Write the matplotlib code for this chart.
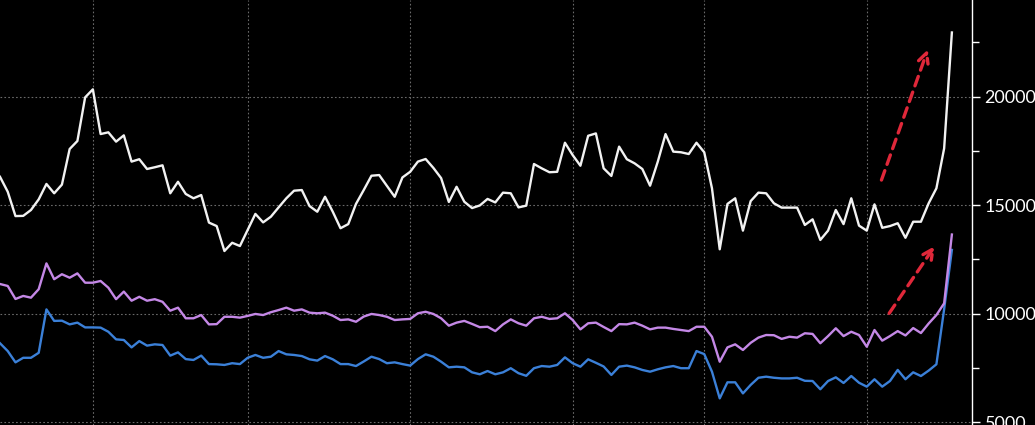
import numpy as np
import matplotlib
matplotlib.use("Agg")
import matplotlib.pyplot as plt
from matplotlib.ticker import MultipleLocator

# Series values, one point per period
white_vals = [16300, 15610, 14490, 14500, 14770, 15260, 15970, 15540, 15940, 17580,
              17950, 19960, 20330, 18270, 18350, 17920, 18210, 17000, 17110, 16660,
              16740, 16830, 15540, 16070, 15510, 15310, 15460, 14190, 14030, 12880,
              13260, 13110, 13850, 14590, 14200, 14460, 14890, 15310, 15660, 15690,
              14950, 14690, 15380, 14690, 13930, 14120, 15050, 15690, 16350, 16380,
              15880, 15380, 16270, 16530, 17000, 17120, 16710, 16240, 15140, 15840,
              15150, 14860, 14980, 15280, 15120, 15570, 15540, 14890, 14970, 16890,
              16690, 16510, 16530, 17870, 17300, 16810, 18190, 18300, 16690, 16340,
              17690, 17110, 16920, 16660, 15890, 17000, 18270, 17460, 17430, 17350,
              17870, 17430, 15770, 12960, 15050, 15310, 13820, 15180, 15570, 15540,
              15080, 14880, 14880, 14880, 14080, 14340, 13390, 13820, 14770, 14120,
              15310, 14050, 13820, 15030, 13950, 14030, 14160, 13490, 14230, 14230,
              15080, 15770, 17610, 22950]

purple_vals = [11360, 11270, 10670, 10810, 10730, 11120, 12310, 11580, 11810, 11650,
               11850, 11420, 11420, 11500, 11190, 10660, 11010, 10590, 10770, 10590,
               10660, 10540, 10130, 10270, 9780, 9780, 9930, 9500, 9510, 9850,
               9850, 9810, 9890, 9980, 9930, 10060, 10160, 10270, 10130, 10190,
               10040, 10010, 10040, 9900, 9700, 9730, 9620, 9860, 9980, 9930,
               9850, 9700, 9730, 9750, 10010, 10080, 9980, 9780, 9440, 9580,
               9660, 9520, 9370, 9390, 9190, 9500, 9730, 9550, 9440, 9780,
               9850, 9750, 9780, 10010, 9700, 9270, 9550, 9580, 9380, 9190,
               9510, 9500, 9580, 9440, 9270, 9350, 9350, 9290, 9240, 9190,
               9390, 9390, 8930, 7780, 8440, 8580, 8320, 8650, 8890, 9010,
               9000, 8830, 8930, 8890, 9090, 9060, 8630, 8960, 9320, 8960,
               9160, 9010, 8470, 9240, 8750, 8960, 9190, 8990, 9330, 9100,
               9540, 9930, 10470, 13640]

blue_vals = [8630, 8270, 7750, 7960, 7960, 8190, 10190, 9660, 9670, 9500,
             9580, 9360, 9360, 9350, 9160, 8810, 8780, 8440, 8730, 8520,
             8580, 8550, 8060, 8210, 7900, 7860, 8060, 7670, 7660, 7630,
             7710, 7670, 7960, 8090, 7960, 8010, 8270, 8120, 8090, 8040,
             7890, 7830, 8040, 7890, 7670, 7670, 7580, 7790, 8010, 7900,
             7710, 7750, 7670, 7600, 7900, 8120, 8010, 7780, 7520, 7550,
             7520, 7290, 7200, 7350, 7200, 7290, 7480, 7250, 7130, 7480,
             7580, 7550, 7630, 7980, 7710, 7550, 7890, 7730, 7560, 7170,
             7550, 7600, 7520, 7400, 7320, 7430, 7520, 7580, 7480, 7480,
             8270, 8130, 7320, 6090, 6830, 6830, 6320, 6710, 7040, 7090,
             7040, 7010, 7010, 7040, 6900, 6890, 6510, 6890, 7060, 6800,
             7120, 6810, 6630, 6970, 6630, 6890, 7400, 6970, 7290, 7120,
             7370, 7660, 10200, 12930]

# period index of the vertical grid lines
vgrid_idx = [12, 32, 53, 74, 91, 112]

# red dashed trend arrows: (tail, head) in (period, value)
arrows = [((113.9, 16150), (119.9, 22170)),
          ((114.9, 10010), (120.8, 13110))]

x = np.arange(len(white_vals))

fig = plt.figure(figsize=(10.35, 4.25), dpi=100, facecolor="black")
ax = fig.add_axes([0.0, 0.0, 972 / 1035, 1.0])
ax.set_facecolor("black")

ax.plot(x, blue_vals, color="#3b80d8", lw=1.7)
ax.plot(x, purple_vals, color="#c488e6", lw=1.7)
ax.plot(x, white_vals, color="#f2f2f2", lw=1.7)

for (x0, y0), (x1, y1) in arrows:
    ax.annotate("", xy=(x1, y1), xytext=(x0, y0),
                arrowprops=dict(arrowstyle="->", color="#e0283a", lw=2.4,
                                linestyle=(0, (3, 2)), mutation_scale=18,
                                shrinkA=0, shrinkB=0))

ax.set_xlim(0, 125.6)
ax.set_ylim(4863, 24447)

# grid
for gx in vgrid_idx:
    ax.axvline(gx, color="#6a6a6a", lw=0.8, ls=(0, (1.5, 2)), zorder=0)
for gy in [5000, 10000, 15000, 20000]:
    ax.axhline(gy, color="#6a6a6a", lw=0.8, ls=(0, (1.5, 2)), zorder=0)

# right hand axis only
for side in ["left", "top", "bottom"]:
    ax.spines[side].set_visible(False)
ax.spines["right"].set_color("white")
ax.spines["right"].set_linewidth(1.0)
ax.yaxis.tick_right()
ax.yaxis.set_major_locator(MultipleLocator(5000))
ax.yaxis.set_minor_locator(MultipleLocator(2500))
ax.tick_params(axis="y", which="major", colors="white", length=6, width=1,
               labelsize=13, pad=3)
ax.tick_params(axis="y", which="minor", colors="white", length=5, width=1)
for lbl in ax.get_yticklabels():
    lbl.set_family("Lato")
ax.set_xticks([])

fig.savefig("out.png", dpi=100, facecolor="black")
